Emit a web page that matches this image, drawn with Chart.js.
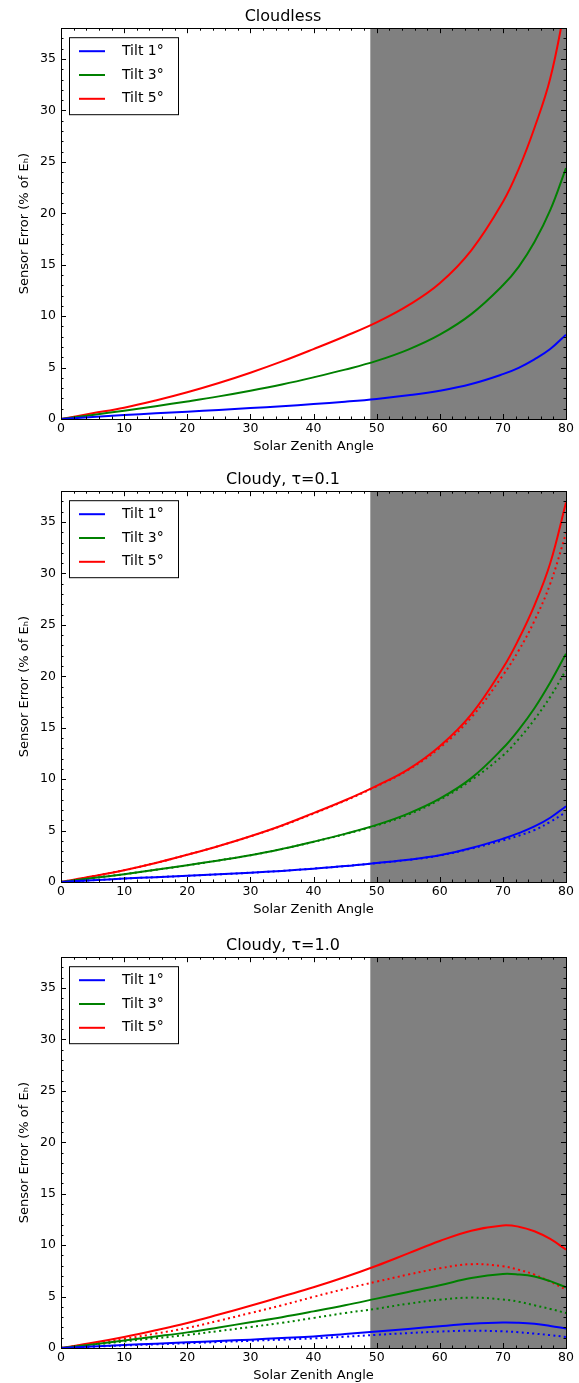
<!DOCTYPE html>
<html>
<head>
<meta charset="utf-8">
<script src="https://cdn.jsdelivr.net/npm/chart.js@4.4.1/dist/chart.umd.min.js"></script>
<style>
  body { margin: 0; background: #fff; width: 579px; height: 1383px; overflow: hidden; position: relative; }
  .panel { position: absolute; left: 0; width: 579px; height: 454px; }
</style>
</head>
<body>
<div class="panel" style="top:0px"><canvas id="c0" width="579" height="454"></canvas></div>
<div class="panel" style="top:463px"><canvas id="c1" width="579" height="454"></canvas></div>
<div class="panel" style="top:929px"><canvas id="c2" width="579" height="454"></canvas></div>
<script>
// Sensor tilt error vs solar zenith angle
const X_DEG = [0, 5, 10, 15, 20, 25, 30, 35, 40, 45, 50, 55, 60, 65, 70, 72.5, 75, 77.5, 80];

// Cloudless
const CLEAR_T1 = [0, 0.19, 0.38, 0.55, 0.71, 0.88, 1.06, 1.25, 1.45, 1.68, 1.95, 2.3, 2.75, 3.4, 4.36, 4.98, 5.8, 6.8, 8.2];
const CLEAR_T3 = [0, 0.4, 0.81, 1.25, 1.71, 2.2, 2.75, 3.36, 4.05, 4.8, 5.65, 6.75, 8.2, 10.2, 13.0, 14.8, 17.2, 20.3, 24.4];
const CLEAR_T5 = [0, 0.55, 1.1, 1.8, 2.6, 3.5, 4.5, 5.6, 6.8, 8.05, 9.4, 11.05, 13.2, 16.4, 21.1, 24.3, 28.3, 33.1, 40.5];

// Cloudy, tau = 0.1 (solid + dotted)
const TAU01_T1 = [0, 0.17, 0.33, 0.47, 0.6, 0.75, 0.9, 1.08, 1.3, 1.55, 1.85, 2.17, 2.6, 3.3, 4.2, 4.75, 5.4, 6.25, 7.37];
const TAU01_T3 = [0, 0.38, 0.76, 1.18, 1.63, 2.1, 2.6, 3.22, 3.92, 4.68, 5.55, 6.65, 8.1, 10.1, 13.0, 14.8, 16.9, 19.4, 22.2];
const TAU01_T5 = [0, 0.55, 1.15, 1.85, 2.65, 3.5, 4.45, 5.5, 6.7, 7.95, 9.35, 10.95, 13.2, 16.3, 20.8, 23.6, 26.9, 31.0, 36.9];
const TAU01_T1_DOT = [0, 0.17, 0.33, 0.47, 0.6, 0.75, 0.9, 1.08, 1.3, 1.55, 1.84, 2.15, 2.58, 3.25, 4.05, 4.5, 5.05, 5.85, 6.8];
const TAU01_T3_DOT = [0, 0.38, 0.76, 1.18, 1.62, 2.1, 2.6, 3.21, 3.9, 4.65, 5.5, 6.55, 8.0, 9.9, 12.3, 13.9, 15.8, 18.0, 20.6];
const TAU01_T5_DOT = [0, 0.55, 1.15, 1.85, 2.65, 3.5, 4.43, 5.47, 6.65, 7.9, 9.3, 10.9, 13.05, 16.0, 20.1, 22.5, 25.4, 29.0, 33.9];

// Cloudy, tau = 1.0 (solid + dotted)
const TAU10_T1 = [0, 0.15, 0.3, 0.42, 0.55, 0.68, 0.81, 0.97, 1.13, 1.35, 1.6, 1.85, 2.12, 2.35, 2.48, 2.45, 2.35, 2.15, 1.9];
const TAU10_T3 = [0, 0.35, 0.74, 1.12, 1.52, 2.0, 2.5, 3.0, 3.56, 4.15, 4.8, 5.45, 6.1, 6.8, 7.2, 7.15, 6.95, 6.5, 5.9];
const TAU10_T5 = [0, 0.5, 1.07, 1.72, 2.43, 3.25, 4.1, 5.0, 5.9, 6.9, 8.0, 9.2, 10.4, 11.4, 11.92, 11.8, 11.35, 10.6, 9.57];
const TAU10_T1_DOT = [0, 0.12, 0.25, 0.36, 0.47, 0.58, 0.7, 0.82, 0.94, 1.1, 1.28, 1.45, 1.6, 1.68, 1.62, 1.53, 1.4, 1.25, 1.07];
const TAU10_T3_DOT = [0, 0.3, 0.64, 0.95, 1.27, 1.65, 2.04, 2.45, 2.92, 3.4, 3.82, 4.31, 4.7, 4.9, 4.72, 4.5, 4.15, 3.8, 3.4];
const TAU10_T5_DOT = [0, 0.42, 0.88, 1.4, 1.95, 2.65, 3.4, 4.15, 4.97, 5.75, 6.45, 7.14, 7.75, 8.15, 7.95, 7.6, 7.14, 6.45, 5.68];

const TITLES = ['Cloudless', 'Cloudy, τ=0.1', 'Cloudy, τ=1.0'];
const LABELS = ['Tilt 1°', 'Tilt 3°', 'Tilt 5°'];
const COLORS = ['#0000ff', '#008000', '#ff0000'];
const SHADE_FROM = 49;
const X_LABEL = 'Solar Zenith Angle';
const Y_LABEL = 'Sensor Error (% of Eₕ)';

const FONT = "'DejaVu Sans', sans-serif";

const panels = [
  { id: 'c0', title: TITLES[0], solid: [CLEAR_T1, CLEAR_T3, CLEAR_T5], dotted: null },
  { id: 'c1', title: TITLES[1], solid: [TAU01_T1, TAU01_T3, TAU01_T5], dotted: [TAU01_T1_DOT, TAU01_T3_DOT, TAU01_T5_DOT] },
  { id: 'c2', title: TITLES[2], solid: [TAU10_T1, TAU10_T3, TAU10_T5], dotted: [TAU10_T1_DOT, TAU10_T3_DOT, TAU10_T5_DOT] }
];

// shading, inward ticks on all sides, frame, boxed legend
const framePlugin = {
  id: 'frame',
  beforeDatasetsDraw(chart) {
    const { ctx, chartArea: a, scales: { x } } = chart;
    const x0 = x.getPixelForValue(SHADE_FROM);
    ctx.save();
    ctx.fillStyle = '#808080';
    ctx.fillRect(x0, a.top, a.right - x0, a.bottom - a.top);
    ctx.restore();
  },
  afterDraw(chart) {
    const { ctx, chartArea: a, scales: { x, y } } = chart;
    ctx.save();
    ctx.strokeStyle = '#000';
    ctx.lineWidth = 1;
    ctx.beginPath();
    for (let v = x.min; v <= x.max; v += 2) {
      const len = v % 10 === 0 ? 5 : 2.5;
      const px = Math.round(x.getPixelForValue(v)) + 0.5;
      ctx.moveTo(px, a.bottom); ctx.lineTo(px, a.bottom - len);
      ctx.moveTo(px, a.top); ctx.lineTo(px, a.top + len);
    }
    for (let v = 0; v <= y.max; v += 1) {
      const len = v % 5 === 0 ? 5 : 2.5;
      const py = Math.round(y.getPixelForValue(v)) + 0.5;
      ctx.moveTo(a.left, py); ctx.lineTo(a.left + len, py);
      ctx.moveTo(a.right, py); ctx.lineTo(a.right - len, py);
    }
    ctx.stroke();
    ctx.strokeRect(Math.round(a.left) + 0.5, Math.round(a.top) + 0.5,
      Math.round(a.right - a.left), Math.round(a.bottom - a.top));

    // legend
    const bx = a.left + 8, by = a.top + 9, bw = 109, bh = 77;
    ctx.fillStyle = '#fff';
    ctx.fillRect(bx, by, bw, bh);
    ctx.strokeRect(bx + 0.5, by + 0.5, bw, bh);
    ctx.font = '14px ' + FONT;
    ctx.textBaseline = 'middle';
    LABELS.forEach((lab, i) => {
      const ry = by + 14 + i * 23.8;
      ctx.strokeStyle = COLORS[i];
      ctx.lineWidth = 2;
      ctx.beginPath();
      ctx.moveTo(bx + 10, ry); ctx.lineTo(bx + 36, ry);
      ctx.stroke();
      ctx.fillStyle = '#000';
      ctx.fillText(lab, bx + 53, ry);
    });
    ctx.restore();
  }
};

function buildDatasets(p) {
  const ds = [];
  p.solid.forEach((arr, i) => {
    ds.push({
      label: LABELS[i],
      data: X_DEG.map((xv, k) => ({ x: xv, y: arr[k] })),
      borderColor: COLORS[i],
      borderWidth: 2,
      pointRadius: 0,
      tension: 0.4,
      clip: 0
    });
  });
  if (p.dotted) {
    p.dotted.forEach((arr, i) => {
      ds.push({
        label: LABELS[i] + ' (dotted)',
        data: X_DEG.map((xv, k) => ({ x: xv, y: arr[k] })),
        borderColor: COLORS[i],
        borderWidth: 2,
        borderDash: [2, 3.3],
        pointRadius: 0,
        tension: 0.4,
        clip: 0
      });
    });
  }
  return ds;
}

panels.forEach(p => {
  new Chart(document.getElementById(p.id), {
    type: 'line',
    data: { datasets: buildDatasets(p) },
    options: {
      responsive: false,
      animation: false,
      layout: { padding: { left: 0, right: 13, top: 0, bottom: 0 } },
      plugins: {
        legend: { display: false },
        tooltip: { enabled: false },
        title: {
          display: true,
          text: p.title,
          color: '#000',
          font: { family: FONT, size: 16, weight: 'normal' },
          padding: { top: 7, bottom: 2 }
        }
      },
      scales: {
        x: {
          type: 'linear',
          min: 0, max: 80,
          grid: { display: false, drawTicks: false },
          border: { display: false },
          ticks: { stepSize: 10, padding: 2, color: '#000', font: { family: FONT, size: 12.5 } },
          title: { display: true, text: X_LABEL, color: '#000', font: { family: FONT, size: 13 }, padding: { top: 0, bottom: 0 } },
          afterFit(s) { s.height = 35; }
        },
        y: {
          min: 0, max: 38,
          grid: { display: false, drawTicks: false },
          border: { display: false },
          ticks: { stepSize: 5, padding: 5, color: '#000', font: { family: FONT, size: 12.5 } },
          afterBuildTicks(s) { s.ticks = s.ticks.filter(t => t.value % 5 === 0); },
          title: { display: true, text: Y_LABEL, color: '#000', font: { family: FONT, size: 13 }, padding: { top: 17, bottom: 0 } },
          afterFit(s) { s.width = 61; }
        }
      }
    },
    plugins: [framePlugin]
  });
});
</script>
</body>
</html>
